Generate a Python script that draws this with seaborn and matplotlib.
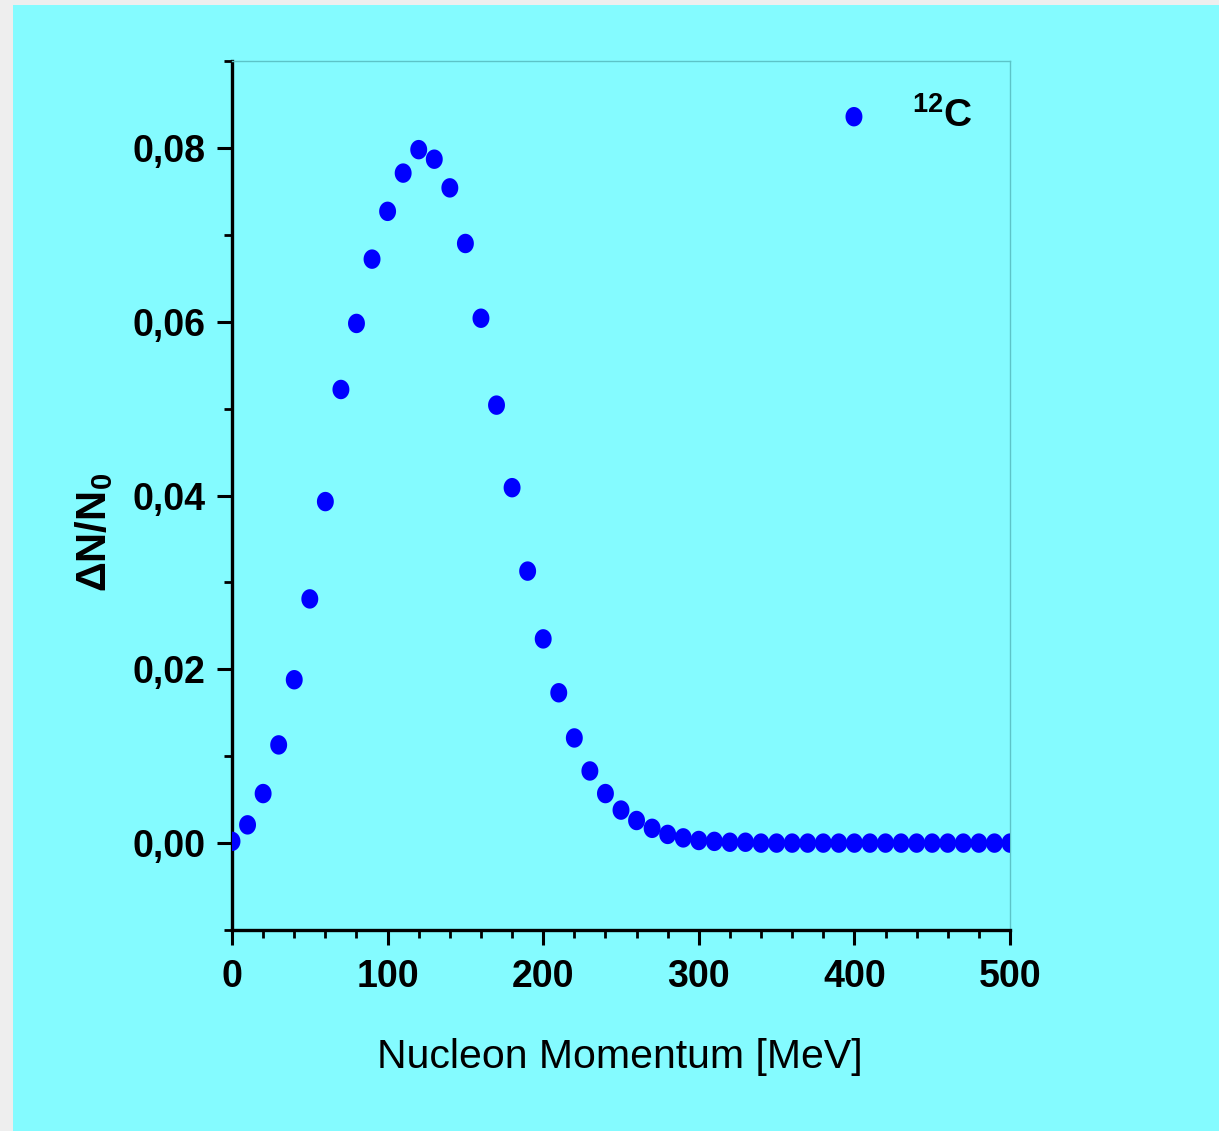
import numpy as np
import pandas as pd
import seaborn as sns
import matplotlib
matplotlib.use("Agg")
import matplotlib.pyplot as plt
from matplotlib import font_manager
from matplotlib.path import Path
from matplotlib.patches import Rectangle

# ---------------- data ----------------
momentum = [0, 10, 20, 30, 40, 50, 60, 70, 80, 90,
            100, 110, 120, 130, 140, 150, 160, 170, 180, 190,
            200, 210, 220, 230, 240, 250, 260, 270, 280, 290,
            300, 310, 320, 330, 340, 350, 360, 370, 380, 390,
            400, 410, 420, 430, 440, 450, 460, 470, 480, 490, 500]
dn_n0 = [0.0002, 0.0021, 0.0057, 0.0113, 0.0188, 0.0281, 0.0393, 0.0522, 0.0598, 0.0672,
         0.0727, 0.0771, 0.0798, 0.0787, 0.0754, 0.0690, 0.0604, 0.0504, 0.0409, 0.0313,
         0.0235, 0.0173, 0.0121, 0.0083, 0.0057, 0.0038, 0.0026, 0.0017, 0.0010, 0.0006,
         0.0003, 0.0002, 0.0001, 0.0001, 0.0000, 0.0000, 0.0000, 0.0000, 0.0000, 0.0000,
         0.0000, 0.0000, 0.0000, 0.0000, 0.0000, 0.0000, 0.0000, 0.0000, 0.0000, 0.0000, 0.0000]
series_label = "$\\mathbf{^{12}C}$"
x_ticks = [0, 100, 200, 300, 400, 500]
x_tick_labels = ["0", "100", "200", "300", "400", "500"]
y_ticks = [0.00, 0.02, 0.04, 0.06, 0.08]
y_tick_labels = ["0,00", "0,02", "0,04", "0,06", "0,08"]
x_label = "Nucleon Momentum [MeV]"
y_label = "$\\mathsf{\\Delta N/N_0}$"

df = pd.DataFrame({"momentum": momentum, "dn": dn_n0})

# ---------------- style ----------------
sns.set_theme(style="white")
avail = {f.name for f in font_manager.fontManager.ttflist}
narrow = "Liberation Sans Narrow" if "Liberation Sans Narrow" in avail else "Liberation Sans"
is_narrow = narrow == "Liberation Sans Narrow"
plt.rcParams["font.family"] = ["Liberation Sans", "DejaVu Sans"]
plt.rcParams["mathtext.fontset"] = "custom"
plt.rcParams["mathtext.bf"] = narrow + ":bold"
plt.rcParams["mathtext.rm"] = narrow
plt.rcParams["mathtext.sf"] = "Liberation Sans:bold"
plt.rcParams["mathtext.it"] = narrow + ":bold"
for key in ["text.color", "axes.labelcolor", "xtick.color", "ytick.color"]:
    plt.rcParams[key] = "black"

cyan = "#84FBFF"
W, H = 1219, 1131
fig = plt.figure(figsize=(W / 100, H / 100), dpi=100, facecolor="#eeeeee")
fig.patches.append(Rectangle((13 / W, 0), 1 - 13 / W, 1 - 5 / H, transform=fig.transFigure,
                             facecolor=cyan, edgecolor="none", zorder=-10))
ax = fig.add_axes([232 / W, 1 - 930 / H, (1010 - 232) / W, (930 - 61) / H])
ax.set_zorder(1)
ax.set_facecolor(cyan)

# elliptical dot marker (slightly taller than wide)
t = np.linspace(0, 2 * np.pi, 60)
ell = Path(np.column_stack([0.87 * np.cos(t), np.sin(t)]), closed=True)

sns.scatterplot(data=df, x="momentum", y="dn", ax=ax, marker=ell, s=14.0 ** 2,
                color="#0000FF", edgecolor="none", linewidth=0, label=series_label,
                zorder=3)

ax.set_xlim(0, 500)
ax.set_ylim(-0.01, 0.09)

ax.set_xticks(x_ticks)
ax.set_yticks(y_ticks)
tick_size = 30 if is_narrow else 27
ax.set_xticklabels(x_tick_labels, fontfamily=narrow, fontweight="bold", fontsize=tick_size,
                   color="black")
ax.set_yticklabels(y_tick_labels, fontfamily=narrow, fontweight="bold", fontsize=tick_size,
                   color="black")
ax.set_xticks(np.arange(0, 501, 20), minor=True)
ax.set_yticks(np.arange(-0.01, 0.0901, 0.01), minor=True)

ax.tick_params(axis="both", which="major", direction="out", length=11, width=2.2,
               color="black", labelcolor="black", pad=8, bottom=True, left=True)
ax.tick_params(axis="both", which="minor", direction="out", length=6, width=2.0,
               color="black", bottom=True, left=True)
ax.tick_params(axis="x", which="major", pad=10)

for side in ["left", "bottom"]:
    ax.spines[side].set_color("black")
    ax.spines[side].set_linewidth(2.4)
for side in ["top", "right"]:
    ax.spines[side].set_color("#5cc4c8")
    ax.spines[side].set_linewidth(1.0)

ax.set_xlabel(x_label, fontsize=29.5, color="black")
ax.set_ylabel(y_label, fontsize=30, color="black")
ax.xaxis.set_label_coords(0.4987, -0.124)
ax.yaxis.set_label_coords(-0.150, 0.457)

leg = ax.legend(loc="center left", bbox_to_anchor=((838.4 - 232) / 778, 0.9367),
                frameon=False, borderpad=0, borderaxespad=0, handlelength=0.8,
                handletextpad=1.09, fontsize=28, markerscale=1.0)
for txt in leg.get_texts():
    txt.set_color("black")

fig.savefig("out.png", dpi=100, facecolor=fig.get_facecolor())
